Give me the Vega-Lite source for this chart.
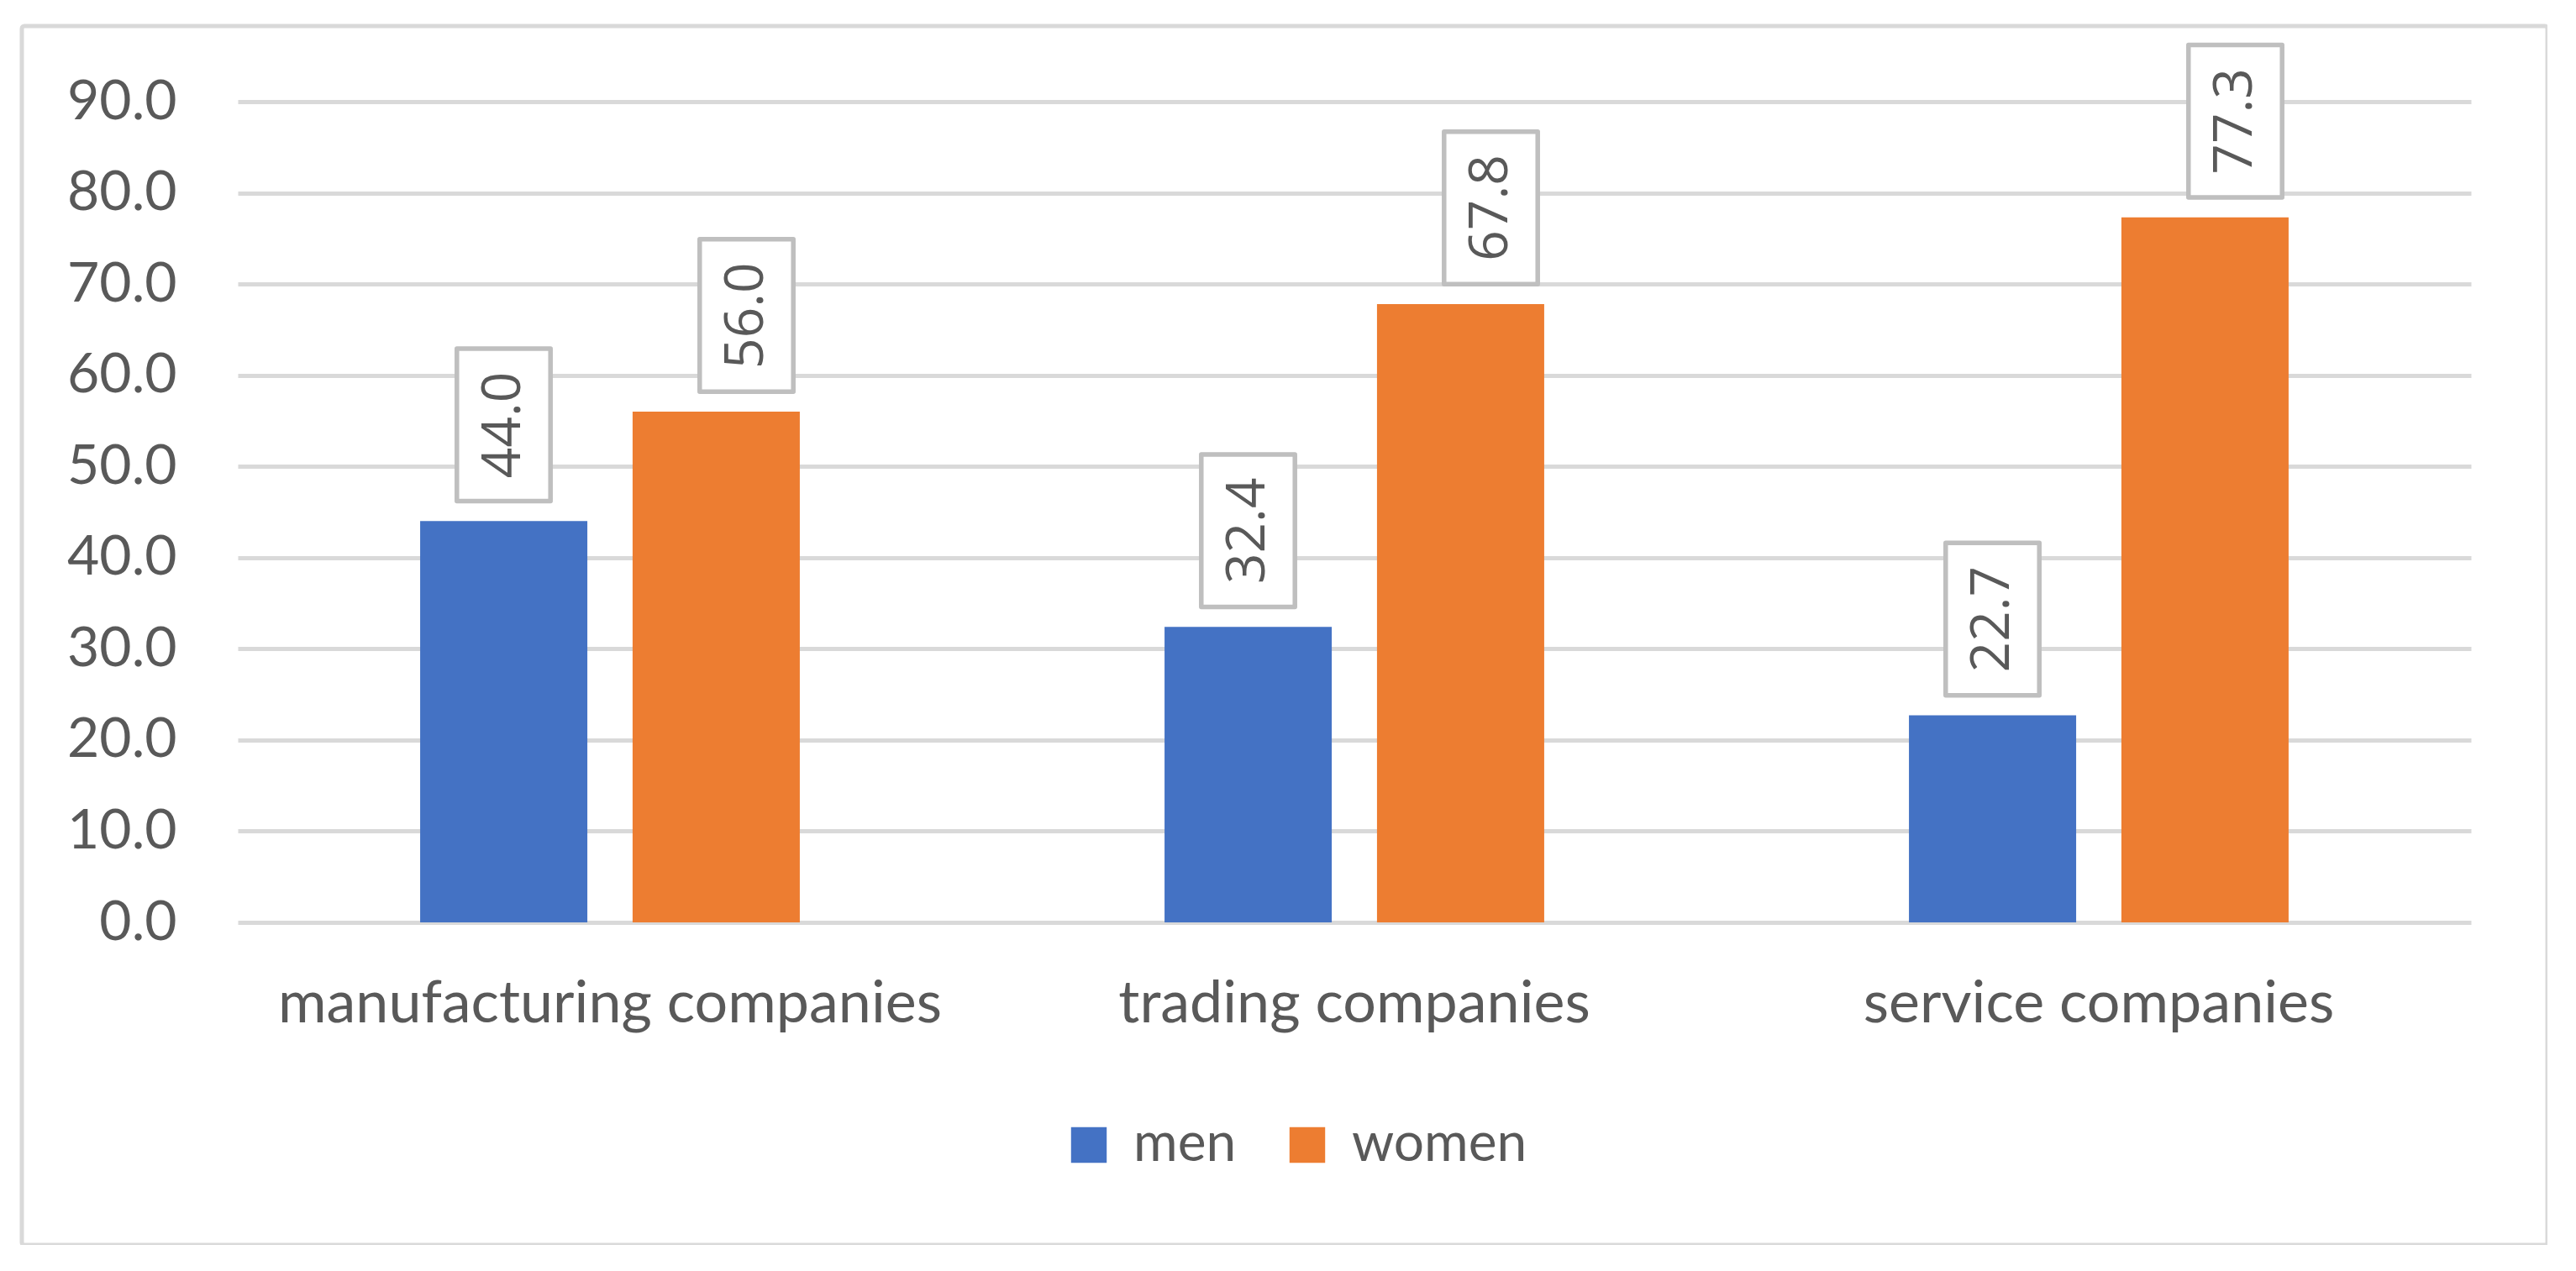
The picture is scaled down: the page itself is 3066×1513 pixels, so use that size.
{
  "$schema": "https://vega.github.io/schema/vega-lite/v6.json",
  "background": "#ffffff",
  "autosize": "none",
  "padding": {"left": 26, "top": 31, "right": 0, "bottom": 0},
  "width": 3006,
  "height": 1451,
  "config": {
    "view": {"stroke": "#d9d9d9", "strokeWidth": 5, "cornerRadius": 3},
    "font": "Lato"
  },
  "data": {
    "values": [
      {"company": "manufacturing companies", "gender": "men", "value": 44.0},
      {"company": "manufacturing companies", "gender": "women", "value": 56.0},
      {"company": "trading companies", "gender": "men", "value": 32.4},
      {"company": "trading companies", "gender": "women", "value": 67.8},
      {"company": "service companies", "gender": "men", "value": 22.7},
      {"company": "service companies", "gender": "women", "value": 77.3}
    ]
  },
  "encoding": {
    "x": {
      "field": "company",
      "type": "nominal",
      "sort": null,
      "scale": {"range": [257, 2915], "paddingInner": 0.49, "paddingOuter": 0.245},
      "axis": {
        "title": null,
        "orient": "bottom",
        "offset": -384,
        "domain": false,
        "ticks": false,
        "tickSize": 0,
        "labelAngle": 0,
        "labelBaseline": "alphabetic",
        "labelPadding": 118,
        "labelFont": "Lato",
        "labelFontSize": 70,
        "labelColor": "#595959",
        "labelLimit": 0
      }
    },
    "y": {
      "field": "value",
      "type": "quantitative",
      "scale": {"domain": [0, 90], "range": [1067, 90], "nice": false},
      "axis": {
        "title": null,
        "offset": -184,
        "domain": false,
        "ticks": false,
        "tickSize": 0,
        "tickCount": 10,
        "format": ".1f",
        "labelPadding": 0,
        "labelFont": "Lato",
        "labelFontSize": 66,
        "labelColor": "#595959",
        "grid": true,
        "gridColor": "#d9d9d9",
        "gridWidth": 5
      }
    }
  },
  "layer": [
    {
      "mark": {"type": "bar"},
      "encoding": {
        "xOffset": {
          "field": "gender",
          "type": "nominal",
          "scale": {"paddingInner": 0.213, "paddingOuter": 0}
        },
        "color": {
          "field": "gender",
          "type": "nominal",
          "scale": {"domain": ["men", "women"], "range": ["#4472C4", "#ED7D31"]},
          "legend": {
            "title": null,
            "orient": "none",
            "direction": "horizontal",
            "legendX": 1238,
            "legendY": 1300,
            "padding": 0,
            "symbolType": "square",
            "symbolSize": 1800,
            "symbolStrokeWidth": 0,
            "symbolOpacity": 1,
            "labelFont": "Lato",
            "labelFontSize": 64,
            "labelColor": "#595959",
            "labelOffset": 21,
            "labelLimit": 0,
            "columnPadding": 52
          }
        }
      }
    },
    {
      "transform": [{"filter": "datum.gender == 'men'"}],
      "layer": [
        {
          "mark": {
            "type": "point",
            "shape": "M-0.614,-1H0.614V1H-0.614Z",
            "size": 32942,
            "filled": true,
            "fill": "#ffffff",
            "stroke": "#bfbfbf",
            "strokeWidth": 5.5,
            "strokeJoin": "round",
            "opacity": 1,
            "yOffset": -114.5,
            "xOffset": -126.5
          }
        },
        {
          "mark": {
            "type": "text",
            "angle": 270,
            "align": "center",
            "baseline": "middle",
            "font": "Open Sans",
            "fontSize": 64,
            "color": "#595959",
            "yOffset": -114.5,
            "xOffset": -126.5
          },
          "encoding": {
            "text": {"field": "value", "type": "quantitative", "format": ".1f"}
          }
        }
      ]
    },
    {
      "transform": [{"filter": "datum.gender == 'women'"}],
      "layer": [
        {
          "mark": {
            "type": "point",
            "shape": "M-0.614,-1H0.614V1H-0.614Z",
            "size": 32942,
            "filled": true,
            "fill": "#ffffff",
            "stroke": "#bfbfbf",
            "strokeWidth": 5.5,
            "strokeJoin": "round",
            "opacity": 1,
            "yOffset": -114.5,
            "xOffset": 162.5
          }
        },
        {
          "mark": {
            "type": "text",
            "angle": 270,
            "align": "center",
            "baseline": "middle",
            "font": "Open Sans",
            "fontSize": 64,
            "color": "#595959",
            "yOffset": -114.5,
            "xOffset": 162.5
          },
          "encoding": {
            "text": {"field": "value", "type": "quantitative", "format": ".1f"}
          }
        }
      ]
    }
  ]
}
